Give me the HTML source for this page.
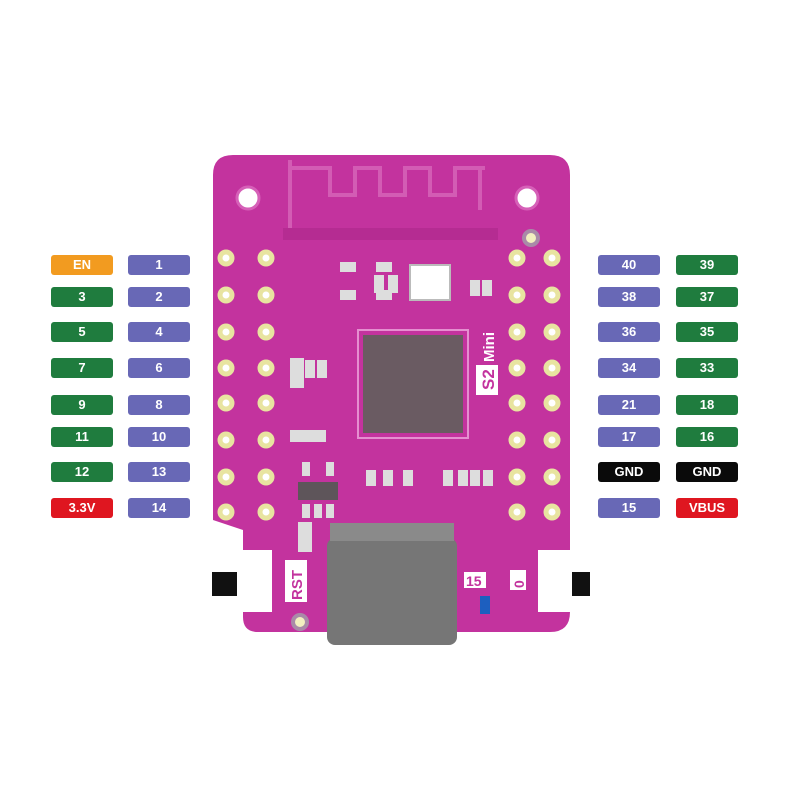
<!DOCTYPE html>
<html><head><style>
body{margin:0;background:#fff;width:800px;height:800px;position:relative;overflow:hidden;font-family:"Liberation Sans",sans-serif}
.l{position:absolute;width:62px;height:20px;border-radius:3px;color:#fff;font-weight:bold;font-size:13px;line-height:20px;text-align:center}
.g{background:#1f7c3e}.b{background:#6868b6}.o{background:#f29b20}.r{background:#df1620}.k{background:#0a0a0a}
</style></head><body>
<svg width="800" height="800" style="position:absolute;left:0;top:0">
<path d="M233,155 H550 Q570,155 570,175 V612 Q570,632 550,632 H258 Q243,632 243,617 V530 L213,520 V175 Q213,155 233,155Z" fill="#c3339e"/>
<path d="M290,160 V235 M290,168 H330 V195 H355 V168 H380 V195 H405 V168 H430 V195 H455 V168 H480 V210 M480,168 H485" stroke="#d35cb4" stroke-width="4" fill="none"/>
<rect x="283" y="228" width="215" height="12" fill="#b52c92"/>
<circle cx="248" cy="198" r="11" fill="#fff" stroke="#d660b8" stroke-width="3"/>
<circle cx="527" cy="198" r="11" fill="#fff" stroke="#d660b8" stroke-width="3"/>
<circle cx="531" cy="238" r="7" fill="#f2f0c0" stroke="#a98aa8" stroke-width="4"/>
<circle cx="300" cy="622" r="7" fill="#f2f0c0" stroke="#a98aa8" stroke-width="4"/>
<g fill="#fff" stroke="#e8e4a0" stroke-width="5">
<circle cx="226" cy="258" r="6"/><circle cx="266" cy="258" r="6"/><circle cx="517" cy="258" r="6"/><circle cx="552" cy="258" r="6"/>
<circle cx="226" cy="295" r="6"/><circle cx="266" cy="295" r="6"/><circle cx="517" cy="295" r="6"/><circle cx="552" cy="295" r="6"/>
<circle cx="226" cy="332" r="6"/><circle cx="266" cy="332" r="6"/><circle cx="517" cy="332" r="6"/><circle cx="552" cy="332" r="6"/>
<circle cx="226" cy="368" r="6"/><circle cx="266" cy="368" r="6"/><circle cx="517" cy="368" r="6"/><circle cx="552" cy="368" r="6"/>
<circle cx="226" cy="403" r="6"/><circle cx="266" cy="403" r="6"/><circle cx="517" cy="403" r="6"/><circle cx="552" cy="403" r="6"/>
<circle cx="226" cy="440" r="6"/><circle cx="266" cy="440" r="6"/><circle cx="517" cy="440" r="6"/><circle cx="552" cy="440" r="6"/>
<circle cx="226" cy="477" r="6"/><circle cx="266" cy="477" r="6"/><circle cx="517" cy="477" r="6"/><circle cx="552" cy="477" r="6"/>
<circle cx="226" cy="512" r="6"/><circle cx="266" cy="512" r="6"/><circle cx="517" cy="512" r="6"/><circle cx="552" cy="512" r="6"/>
</g>
<rect x="358" y="330" width="110" height="108" fill="none" stroke="#e58fd0" stroke-width="2"/>
<rect x="363" y="335" width="100" height="98" fill="#6a5b62"/>
<rect x="410" y="265" width="40" height="35" fill="#fff" stroke="#bbb" stroke-width="2"/>
<rect x="298" y="482" width="40" height="18" fill="#5e555a"/>
<g fill="#ddd"><rect x="302" y="462" width="8" height="14"/><rect x="326" y="462" width="8" height="14"/><rect x="302" y="504" width="8" height="14"/><rect x="314" y="504" width="8" height="14"/><rect x="326" y="504" width="8" height="14"/>
<rect x="290" y="358" width="14" height="30"/><rect x="290" y="430" width="36" height="12"/><rect x="298" y="522" width="14" height="30"/>
<rect x="340" y="262" width="16" height="10"/><rect x="340" y="290" width="16" height="10"/><rect x="376" y="262" width="16" height="10"/><rect x="376" y="290" width="16" height="10"/><rect x="374" y="275" width="10" height="18"/><rect x="388" y="275" width="10" height="18"/>
<rect x="305" y="360" width="10" height="18"/><rect x="317" y="360" width="10" height="18"/>
<rect x="366" y="470" width="10" height="16"/><rect x="383" y="470" width="10" height="16"/><rect x="403" y="470" width="10" height="16"/><rect x="443" y="470" width="10" height="16"/><rect x="458" y="470" width="10" height="16"/><rect x="470" y="470" width="10" height="16"/><rect x="483" y="470" width="10" height="16"/>
<rect x="470" y="280" width="10" height="16"/><rect x="482" y="280" width="10" height="16"/></g>
<rect x="480" y="596" width="10" height="18" fill="#1d5fbf"/>
<rect x="327" y="538" width="130" height="107" rx="8" fill="#767676"/>
<rect x="330" y="523" width="124" height="18" fill="#8a8a8a"/>
<rect x="237" y="550" width="35" height="62" fill="#fff"/>
<rect x="212" y="572" width="25" height="24" fill="#111"/>
<rect x="538" y="550" width="34" height="62" fill="#fff"/>
<rect x="572" y="572" width="18" height="24" fill="#111"/>
<rect x="476" y="365" width="22" height="30" fill="#fff"/>
<text transform="translate(494,390) rotate(-90)" font-family="Liberation Sans" font-weight="bold" font-size="17" fill="#c3339e">S2</text>
<text transform="translate(494,362) rotate(-90)" font-family="Liberation Sans" font-weight="bold" font-size="15" fill="#fff">Mini</text>
<rect x="285" y="560" width="22" height="42" fill="#fff"/>
<text transform="translate(302,600) rotate(-90)" font-family="Liberation Sans" font-weight="bold" font-size="15" fill="#c3339e">RST</text>
<rect x="464" y="572" width="22" height="16" fill="#fff"/>
<text x="466" y="586" font-family="Liberation Sans" font-weight="bold" font-size="14" fill="#c3339e">15</text>
<rect x="510" y="570" width="16" height="20" fill="#fff"/>
<text transform="translate(524,588) rotate(-90)" font-family="Liberation Sans" font-weight="bold" font-size="14" fill="#c3339e">0</text>
</svg>
<div class="l o" style="left:51px;top:255px">EN</div><div class="l b" style="left:128px;top:255px">1</div>
<div class="l g" style="left:51px;top:287px">3</div><div class="l b" style="left:128px;top:287px">2</div>
<div class="l g" style="left:51px;top:322px">5</div><div class="l b" style="left:128px;top:322px">4</div>
<div class="l g" style="left:51px;top:358px">7</div><div class="l b" style="left:128px;top:358px">6</div>
<div class="l g" style="left:51px;top:395px">9</div><div class="l b" style="left:128px;top:395px">8</div>
<div class="l g" style="left:51px;top:427px">11</div><div class="l b" style="left:128px;top:427px">10</div>
<div class="l g" style="left:51px;top:462px">12</div><div class="l b" style="left:128px;top:462px">13</div>
<div class="l r" style="left:51px;top:498px">3.3V</div><div class="l b" style="left:128px;top:498px">14</div>
<div class="l b" style="left:598px;top:255px">40</div><div class="l g" style="left:676px;top:255px">39</div>
<div class="l b" style="left:598px;top:287px">38</div><div class="l g" style="left:676px;top:287px">37</div>
<div class="l b" style="left:598px;top:322px">36</div><div class="l g" style="left:676px;top:322px">35</div>
<div class="l b" style="left:598px;top:358px">34</div><div class="l g" style="left:676px;top:358px">33</div>
<div class="l b" style="left:598px;top:395px">21</div><div class="l g" style="left:676px;top:395px">18</div>
<div class="l b" style="left:598px;top:427px">17</div><div class="l g" style="left:676px;top:427px">16</div>
<div class="l k" style="left:598px;top:462px">GND</div><div class="l k" style="left:676px;top:462px">GND</div>
<div class="l b" style="left:598px;top:498px">15</div><div class="l r" style="left:676px;top:498px">VBUS</div>
</body></html>
